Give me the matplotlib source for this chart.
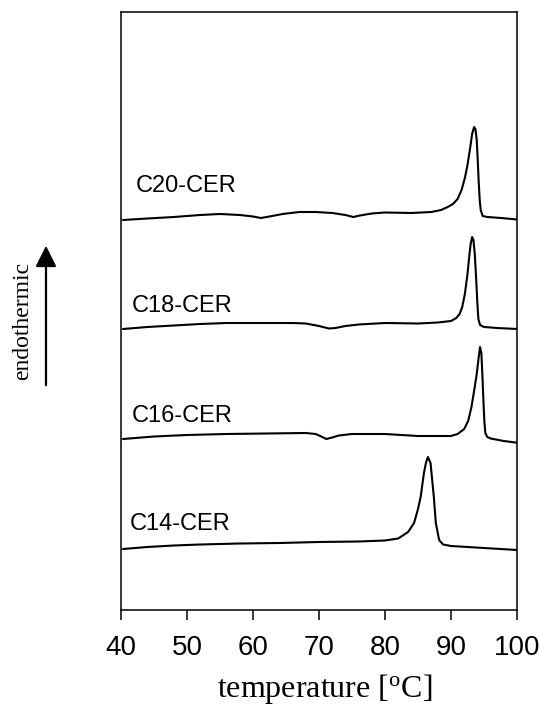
import numpy as np
import matplotlib
matplotlib.use("Agg")
import matplotlib.pyplot as plt
from matplotlib.patches import FancyArrowPatch

plt.rcParams["font.family"] = ["Liberation Sans", "DejaVu Sans"]
plt.rcParams["mathtext.fontset"] = "custom"
plt.rcParams["mathtext.rm"] = "Liberation Serif"
plt.rcParams["mathtext.it"] = "Liberation Serif:italic"

# DSC heating scans: temperature (degC) and heat flow (a.u., endothermic up)
temp_c20 = [40.3, 44, 48, 52, 55, 58, 60, 61.2, 62.5, 64.5, 67, 69.5, 72, 74, 75.2,
            76.2, 78, 80, 84, 87, 88.5, 89.5, 90.3, 91.0, 91.6, 92.1, 92.5, 92.9,
            93.2, 93.5, 93.7, 93.9, 94.05, 94.2, 94.35, 94.5, 94.8, 95.5, 97.6, 100]
flow_c20 = [0, 1.5, 3, 5, 6, 5, 3.5, 2, 3.5, 6, 8, 8, 7, 5, 3,
            4.5, 6.5, 7.5, 7, 8, 10, 13, 16, 21, 30, 42, 55, 72,
            86, 93, 91, 80, 60, 38, 20, 10, 4, 3, 2, 0.5]

temp_c18 = [40.3, 44, 48, 52, 56, 62, 66, 68, 70, 71.5, 72.5, 74, 76, 80, 85, 88,
            90, 90.8, 91.3, 91.7, 92.1, 92.5, 92.8, 93.0, 93.2, 93.4, 93.6, 93.8,
            94.0, 94.15, 94.4, 95, 97, 100]
flow_c18 = [0, 2, 3.5, 5, 6, 6, 6, 5.5, 3, 0.5, 1, 3, 4.5, 6, 5.5, 6.5,
            8, 11, 15, 22, 35, 55, 75, 86, 92, 89, 75, 52,
            25, 10, 4, 2, 1, 0]

temp_c16 = [40.3, 45, 50, 56, 62, 68, 69.5, 70.5, 71.1, 72, 73, 75, 80, 85, 90,
            91, 92, 92.6, 93.1, 93.5, 93.9, 94.2, 94.4, 94.6, 94.75, 94.9, 95.05,
            95.2, 95.5, 96, 98, 100]
flow_c16 = [0, 2.5, 4, 5, 5.5, 6, 5, 2, 0, 1.5, 3.5, 5, 5, 3, 3,
            5, 10, 18, 32, 48, 65, 82, 92, 86, 65, 40, 18,
            6, 2, 0.5, -2, -3.7]

temp_c14 = [40.3, 44, 48, 52, 58, 64, 70, 76, 80, 82, 83.5, 84.4, 85.0, 85.4, 85.9,
            86.2, 86.5, 86.9, 87.4, 87.7, 88.2, 88.8, 90, 95, 100]
flow_c14 = [0, 2, 3.5, 4.5, 5.5, 6, 7, 7.5, 8.5, 10.5, 17, 26, 40, 52, 76,
            86, 92, 86, 52, 26, 9, 4.5, 3, 1, -1]

labels = ["C20-CER", "C18-CER", "C16-CER", "C14-CER"]
temps = [temp_c20, temp_c18, temp_c16, temp_c14]
flows = [flow_c20, flow_c18, flow_c16, flow_c14]

# vertical stacking of the traces and label anchors
offsets = [390, 281, 171, 61]
label_x = [42.3, 41.7, 41.7, 41.4]
label_y = [418, 298, 188, 80]

xticks = [40, 50, 60, 70, 80, 90, 100]

fig = plt.figure(figsize=(5.4, 7.05), dpi=100)
ax = fig.add_axes([121 / 540, 1 - 610 / 705, (517 - 121) / 540, (610 - 12) / 705])

for t, f, off, lab, lx, ly in zip(temps, flows, offsets, labels, label_x, label_y):
    ax.plot(t, np.asarray(f) + off, color="black", lw=1.5,
            solid_joinstyle="round", solid_capstyle="round")
    ax.text(lx, ly, lab, fontsize=17, va="baseline", ha="left", color="black")

ax.set_xlim(40, 100)
ax.set_ylim(0, 598)
ax.set_xticks(xticks)
ax.set_xticklabels([str(v) for v in xticks])
ax.set_yticks([])
ax.tick_params(axis="x", direction="out", length=7, width=1.1, labelsize=20, pad=11)
for sp in ax.spines.values():
    sp.set_linewidth(1.1)

ax.set_xlabel(r"temperature [$^{\rm o}$C]", fontsize=23, family="Liberation Serif")
ax.xaxis.set_label_coords(0.515, -0.1455)
ax.xaxis.label.set_va("baseline")

# endothermic direction indicator
fig.text(23 / 540, 1 - 321 / 705, "endothermic", rotation=90, fontsize=17,
         family="Liberation Serif", ha="center", va="center")
fig.add_artist(FancyArrowPatch(
    (46 / 540, 1 - 388 / 705), (46 / 540, 1 - 243 / 705),
    transform=fig.transFigure, arrowstyle="-|>,head_length=8,head_width=4",
    mutation_scale=1.6, lw=1.6, color="black"))

fig.savefig("out.png", dpi=100)
